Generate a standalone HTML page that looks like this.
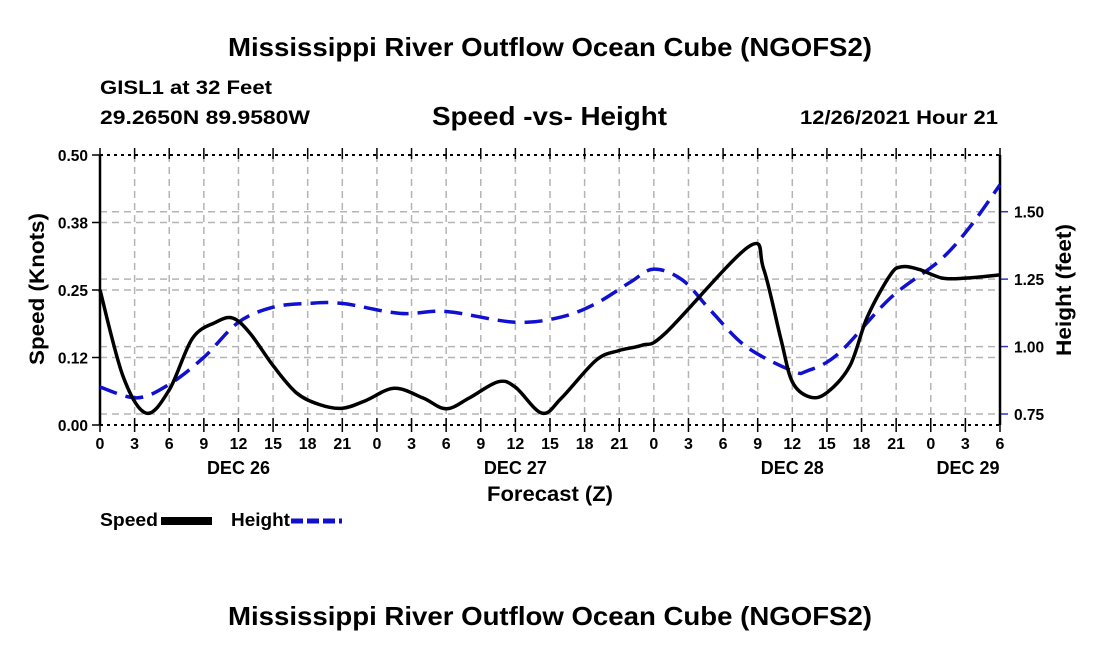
<!DOCTYPE html>
<html><head><meta charset="utf-8"><style>
html,body{margin:0;padding:0;background:#fff;}
svg{display:block;font-family:"Liberation Sans",Arial,sans-serif;font-weight:bold;}
</style></head><body>
<svg id="chart" width="1100" height="650" viewBox="0 0 1100 650" xmlns="http://www.w3.org/2000/svg">
<text x="228" y="56" font-size="26" textLength="644" lengthAdjust="spacingAndGlyphs">Mississippi River Outflow Ocean Cube (NGOFS2)</text>
<text x="100" y="94" font-size="19" textLength="172" lengthAdjust="spacingAndGlyphs">GISL1 at 32 Feet</text>
<text x="100" y="124" font-size="19" textLength="210" lengthAdjust="spacingAndGlyphs">29.2650N  89.9580W</text>
<text x="432" y="125" font-size="26" textLength="235" lengthAdjust="spacingAndGlyphs">Speed -vs- Height</text>
<text x="800" y="124" font-size="19" textLength="198" lengthAdjust="spacingAndGlyphs">12/26/2021 Hour 21</text>
<g id="grid"></g>
<g id="axes"></g>
<g id="series"></g>
<text transform="translate(44,289) rotate(-90)" font-size="21" text-anchor="middle" textLength="152" lengthAdjust="spacingAndGlyphs">Speed (Knots)</text>
<text transform="translate(1071,290) rotate(-90)" font-size="21" text-anchor="middle" textLength="132" lengthAdjust="spacingAndGlyphs">Height (feet)</text>
<text x="550" y="501" font-size="21" text-anchor="middle" textLength="126" lengthAdjust="spacingAndGlyphs">Forecast (Z)</text>
<g>
<text x="100" y="526" font-size="18" textLength="58" lengthAdjust="spacingAndGlyphs">Speed</text>
<rect x="161" y="517" width="51" height="8" fill="#000"/>
<text x="231" y="526" font-size="18" textLength="59" lengthAdjust="spacingAndGlyphs">Height</text>
<line x1="291" y1="521" x2="342" y2="521" stroke="#1010d0" stroke-width="5" stroke-dasharray="12,4"/>
</g>
<text x="228" y="625" font-size="26" textLength="644" lengthAdjust="spacingAndGlyphs">Mississippi River Outflow Ocean Cube (NGOFS2)</text>
</svg>
<script>
const xTickLabels=["0","3","6","9","12","15","18","21","0","3","6","9","12","15","18","21","0","3","6","9","12","15","18","21","0","3","6"];
const dateLabels=["DEC 26","DEC 27","DEC 28","DEC 29"];
const dateHours=[12,36,60,78];
const leftTicks=[0,0.125,0.25,0.375,0.5];
const leftTickLabels=["0.00","0.12","0.25","0.38","0.50"];
const rightTicks=[0.75,1.0,1.25,1.5];
const rightTickLabels=["0.75","1.00","1.25","1.50"];
const speedHours=[0,2,4,6,8,10,11.5,13,15,17,19,21,23,25.5,28,30,32,34.5,36,38.3,40,43,45,47,49,56.2,57.5,59,60,61.5,63,65,66.5,68.5,69.5,71,73,75,78];
const speedValues=[0.25,0.09,0.022,0.065,0.16,0.19,0.198,0.17,0.11,0.06,0.038,0.031,0.045,0.068,0.05,0.03,0.05,0.08,0.07,0.022,0.05,0.12,0.138,0.148,0.17,0.33,0.29,0.16,0.08,0.052,0.06,0.11,0.2,0.278,0.293,0.288,0.272,0.272,0.278];
const heightHours=[0,3.2,6,9,12,15,18,21,26,30,36,40,43,46,48,50.5,53,56,60,61.3,64,68.5,72.8,75.4,78];
const heightValues=[0.85,0.81,0.86,0.96,1.09,1.146,1.16,1.16,1.123,1.13,1.09,1.11,1.16,1.24,1.287,1.246,1.13,1.0,0.91,0.91,0.974,1.18,1.32,1.444,1.6];

const X0=100,X1=1000,YT=155,YB=425,HMAX=78;
const xs=h=>X0+(X1-X0)*h/HMAX;
const yL=v=>YB-(YB-YT)*v/0.5;
const yR=v=>414-(v-0.75)*(414-211.7)/0.75;
const NS="http://www.w3.org/2000/svg";
function mk(parent,tag,attrs){const e=document.createElementNS(NS,tag);for(const k in attrs)e.setAttribute(k,attrs[k]);parent.appendChild(e);return e;}
const grid=document.getElementById('grid'),axes=document.getElementById('axes'),series=document.getElementById('series');
xTickLabels.forEach((t,i)=>{const x=xs(i*3);
 if(i>0&&i<xTickLabels.length-1){const l=mk(grid,'line',{x1:x,y1:YT,x2:x,y2:YB,stroke:'#b4b4b4','stroke-width':1.5,'stroke-dasharray':'7,5'});
 }
 const tk=mk(axes,'line',{x1:x,y1:YB-7,x2:x,y2:YB+7,stroke:'#000','stroke-width':1.5});
 
 const tk2=mk(axes,'line',{x1:x,y1:YT-7,x2:x,y2:YT+4,stroke:'#000','stroke-width':1.5});
 
 const tx=mk(axes,'text',{x:x,y:449,'font-size':16,'text-anchor':'middle'});tx.textContent=t;
 });
dateLabels.forEach((d,i)=>{const tx=mk(axes,'text',{x:xs(dateHours[i])-(i==3?32:0),y:474,'font-size':18,'text-anchor':'middle'});tx.textContent=d;
 });
leftTicks.forEach((v,i)=>{const y=yL(v);
 if(v>0&&v<0.5){const l=mk(grid,'line',{x1:X0,y1:y,x2:X1,y2:y,stroke:'#b4b4b4','stroke-width':1.5,'stroke-dasharray':'7,5'});
 }
 const tk=mk(axes,'line',{x1:X0-8,y1:y,x2:X0,y2:y,stroke:'#000','stroke-width':1.5});
 
 const tx=mk(axes,'text',{x:88,y:y+6,'font-size':15.5,'text-anchor':'end'});tx.textContent=leftTickLabels[i];
 });
rightTicks.forEach((v,i)=>{const y=yR(v);
 const l=mk(grid,'line',{x1:X0,y1:y,x2:X1,y2:y,stroke:'#b4b4b4','stroke-width':1.5,'stroke-dasharray':'7,5'});
 
 const tk=mk(axes,'line',{x1:X1,y1:y,x2:X1+8,y2:y,stroke:'#3030d0','stroke-width':1.5});
 
 const tx=mk(axes,'text',{x:1014,y:y+6,'font-size':15.5});tx.textContent=rightTickLabels[i];
 });
const fl=mk(axes,'line',{x1:X0,y1:YT,x2:X0,y2:YB,stroke:'#000','stroke-width':2.5});

const fr=mk(axes,'line',{x1:X1,y1:YT,x2:X1,y2:YB,stroke:'#000','stroke-width':2.5});

const ft=mk(axes,'line',{x1:X0,y1:YT,x2:X1,y2:YT,stroke:'#000','stroke-width':2,'stroke-dasharray':'3,4'});

const fb=mk(axes,'line',{x1:X0,y1:YB,x2:X1,y2:YB,stroke:'#000','stroke-width':2,'stroke-dasharray':'3,4'});

function smooth(pts){let d=`M${pts[0][0]},${pts[0][1]}`;
 for(let i=0;i<pts.length-1;i++){const p0=pts[Math.max(0,i-1)],p1=pts[i],p2=pts[i+1],p3=pts[Math.min(pts.length-1,i+2)];
  const c1=[p1[0]+(p2[0]-p0[0])/6,p1[1]+(p2[1]-p0[1])/6],c2=[p2[0]-(p3[0]-p1[0])/6,p2[1]-(p3[1]-p1[1])/6];
  d+=` C${c1[0]},${c1[1]} ${c2[0]},${c2[1]} ${p2[0]},${p2[1]}`;}
 return d;}
const hp=mk(series,'path',{d:smooth(heightHours.map((h,i)=>[xs(h),yR(heightValues[i])])),fill:'none',stroke:'#1010d0','stroke-width':3.5,'stroke-dasharray':'18,9'});

const sp=mk(series,'path',{d:smooth(speedHours.map((h,i)=>[xs(h),yL(speedValues[i])])),fill:'none',stroke:'#000','stroke-width':3.5,'stroke-linejoin':'round'});

</script>
</body></html>
